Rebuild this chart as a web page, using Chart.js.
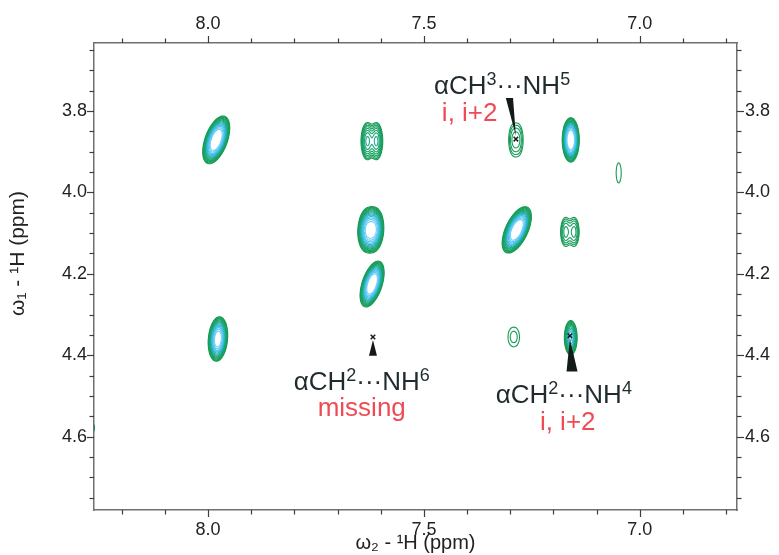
<!DOCTYPE html>
<html>
<head>
<meta charset="utf-8">
<script src="https://cdn.jsdelivr.net/npm/chart.js@4.4.1/dist/chart.umd.min.js"></script>
<style>
  html, body { margin: 0; padding: 0; background: #fff; }
  #wrap { width: 779px; height: 555px; }
</style>
</head>
<body>
<div id="wrap"><canvas id="noesy"></canvas></div>
<script>
// axis windows (ppm)
const xMin = 6.775, xMax = 8.264;
const yMin = 3.633, yMax = 4.78;

const xTicks = [8.2, 8.1, 8.0, 7.9, 7.8, 7.7, 7.6, 7.5, 7.4, 7.3, 7.2, 7.1, 7.0, 6.9, 6.8];
const xLabels = ['8.0', '7.5', '7.0'];
const yTicks = [3.65, 3.7, 3.75, 3.8, 3.85, 3.9, 3.95, 4.0, 4.05, 4.1, 4.15, 4.2, 4.25, 4.3,
                4.35, 4.4, 4.45, 4.5, 4.55, 4.6, 4.65, 4.7, 4.75];
const yLabels = ['3.8', '4.0', '4.2', '4.4', '4.6'];

// cross peaks: w2, w1, linewidths (ppm), tilt (deg), intensity (x lowest contour)
const peakX    = [7.981, 7.977, 7.631, 7.610, 7.630, 7.616, 7.620, 7.294, 7.280, 7.285,
                  7.300, 7.284, 7.160, 7.172, 7.152, 7.160, 7.049, 8.271];
const peakY    = [3.871, 4.360, 3.874, 3.874, 4.092, 4.092, 4.225, 3.871, 3.871, 4.092,
                  4.355, 4.355, 3.871, 4.097, 4.097, 4.357, 3.952, 4.578];
const peakWX   = [0.0088, 0.0079, 0.0074, 0.0074, 0.0086, 0.0086, 0.0079, 0.0081, 0.0081, 0.0088,
                  0.0104, 0.0104, 0.0067, 0.0074, 0.0074, 0.0063, 0.0097, 0.0116];
const peakWY   = [0.0211, 0.0196, 0.0231, 0.0231, 0.0204, 0.0204, 0.0201, 0.0294, 0.0294, 0.0211,
                  0.0270, 0.0270, 0.0187, 0.0228, 0.0228, 0.0182, 0.0410, 0.0196];
const peakTilt = [20, 5, 0, 0, 3, 3, 18, 0, 0, 25, 0, 0, 0, 0, 0, 0, 0, 0];
const peakAmp  = [70, 50, 7, 7, 35, 35, 70, 2, 2, 70, 1.0, 1.0, 70, 3.3, 3.3, 15, 1.2, 1.3];

const levels = [1, 1.3, 1.69, 2.2, 2.86, 3.71, 4.83, 6.27, 8.16, 10.6, 13.8, 17.9, 23.3, 30.3];
const levelColors = ['#169953', '#179b57', '#189d5b', '#199f60', '#1aa165', '#1ba36a', '#1da670', '#20aa96',
                     '#25afc0', '#2db5d6', '#39bce3', '#48c2ea', '#5bc9ef', '#72d1f3'];

// assignment markers and labels
const markX = [7.287, 7.618, 7.162];
const markY = [3.869, 4.355, 4.352];
const wedgeX = [7.302, 7.618, 7.157];
const wedgeY = [3.768, 4.401, 4.440];
const noteX = [7.319, 7.644, 7.176];
const noteY = [3.736, 4.463, 4.494];
const noteCH = ['3', '2', '2'];
const noteNH = ['5', '6', '4'];
const subX = [7.394, 7.644, 7.167];
const subY = [3.807, 4.531, 4.566];
const subText = ['i, i+2', 'missing', 'i, i+2'];

const axisFont = "'Liberation Sans Narrow', 'Liberation Sans', Arial, sans-serif";
const noteFont = "'Liberation Sans', Arial, sans-serif";

const contourPlugin = {
    id: 'contours',
    beforeDatasetsDraw(chart) {
        const {ctx, chartArea: a} = chart;
        const xs = chart.scales.x, ys = chart.scales.y;
        const ox = Math.floor(a.left), oy = Math.floor(a.top);
        const W = Math.ceil(a.right) - ox + 1, H = Math.ceil(a.bottom) - oy + 1;
        const field = new Float32Array(W * H);

        peakX.forEach((px, p) => {
            const cx = xs.getPixelForValue(px), cy = ys.getPixelForValue(peakY[p]);
            const sMin = Math.abs(xs.getPixelForValue(px + peakWX[p]) - cx);
            const sMaj = Math.abs(ys.getPixelForValue(peakY[p] + peakWY[p]) - cy);
            const t = peakTilt[p] * Math.PI / 180, ct = Math.cos(t), st = Math.sin(t);
            const R = 6 * Math.max(sMin, sMaj);
            const i0 = Math.max(0, Math.floor(cx - R - ox)), i1 = Math.min(W - 1, Math.ceil(cx + R - ox));
            const j0 = Math.max(0, Math.floor(cy - R - oy)), j1 = Math.min(H - 1, Math.ceil(cy + R - oy));
            for (let j = j0; j <= j1; j++) {
                for (let i = i0; i <= i1; i++) {
                    const dx = ox + i - cx, dy = oy + j - cy;
                    const along = dx * st - dy * ct, across = dx * ct + dy * st;
                    field[j * W + i] += peakAmp[p] *
                        Math.exp(-0.5 * (along * along / (sMaj * sMaj) + across * across / (sMin * sMin)));
                }
            }
        });

        ctx.save();
        ctx.beginPath();
        ctx.rect(a.left, a.top, a.right - a.left, a.bottom - a.top);
        ctx.clip();
        ctx.lineWidth = 1.1;
        ctx.lineCap = 'round';
        levels.forEach((lev, k) => {
            ctx.strokeStyle = levelColors[k];
            ctx.beginPath();
            const seg = (x1, y1, x2, y2) => { ctx.moveTo(x1, y1); ctx.lineTo(x2, y2); };
            for (let j = 0; j < H - 1; j++) {
                for (let i = 0; i < W - 1; i++) {
                    const va = field[j * W + i], vb = field[j * W + i + 1];
                    const vc = field[(j + 1) * W + i + 1], vd = field[(j + 1) * W + i];
                    let idx = 0;
                    if (va >= lev) idx |= 8;
                    if (vb >= lev) idx |= 4;
                    if (vc >= lev) idx |= 2;
                    if (vd >= lev) idx |= 1;
                    if (idx === 0 || idx === 15) continue;
                    const x = ox + i, y = oy + j;
                    const tX = x + (lev - va) / (vb - va), tY = y;
                    const rX = x + 1, rY = y + (lev - vb) / (vc - vb);
                    const bX = x + (lev - vd) / (vc - vd), bY = y + 1;
                    const lX = x, lY = y + (lev - va) / (vd - va);
                    const centre = (va + vb + vc + vd) / 4 >= lev;
                    switch (idx) {
                        case 1: case 14: seg(lX, lY, bX, bY); break;
                        case 2: case 13: seg(bX, bY, rX, rY); break;
                        case 3: case 12: seg(lX, lY, rX, rY); break;
                        case 4: case 11: seg(tX, tY, rX, rY); break;
                        case 6: case 9: seg(tX, tY, bX, bY); break;
                        case 7: case 8: seg(lX, lY, tX, tY); break;
                        case 5:
                            if (centre) { seg(lX, lY, tX, tY); seg(bX, bY, rX, rY); }
                            else { seg(tX, tY, rX, rY); seg(lX, lY, bX, bY); }
                            break;
                        case 10:
                            if (centre) { seg(tX, tY, rX, rY); seg(lX, lY, bX, bY); }
                            else { seg(lX, lY, tX, tY); seg(bX, bY, rX, rY); }
                            break;
                    }
                }
            }
            ctx.stroke();
        });
        ctx.restore();
    }
};

const tickPlugin = {
    id: 'outerTicks',
    afterDraw(chart) {
        const ctx = chart.ctx;
        ctx.save();
        ctx.strokeStyle = '#3c3c3c';
        ctx.lineWidth = 1.2;
        ['x', 'x2', 'y', 'y2'].forEach(id => {
            const s = chart.scales[id];
            s.ticks.forEach(t => {
                const len = t.label ? 7 : 4.5;
                const p = Math.round(s.getPixelForValue(t.value)) + 0.5;
                ctx.beginPath();
                if (s.position === 'bottom') { ctx.moveTo(p, s.top); ctx.lineTo(p, s.top + len); }
                if (s.position === 'top') { ctx.moveTo(p, s.bottom); ctx.lineTo(p, s.bottom - len); }
                if (s.position === 'left') { ctx.moveTo(s.right, p); ctx.lineTo(s.right - len, p); }
                if (s.position === 'right') { ctx.moveTo(s.left, p); ctx.lineTo(s.left + len, p); }
                ctx.stroke();
            });
        });
        // left axis title, set a little above the middle as in the original
        const ys = chart.scales.y;
        ctx.translate(18, ys.getPixelForValue(4.15));
        ctx.rotate(-Math.PI / 2);
        ctx.fillStyle = '#222';
        ctx.font = '21px ' + axisFont;
        ctx.textAlign = 'center';
        ctx.textBaseline = 'middle';
        ctx.fillText('\u03C9\u2081 - \u00B9H (ppm)', 0, 0);
        ctx.restore();
    }
};

function drawNote(ctx, cx, cy, ch, nh) {
    const big = 26, small = 18;
    const parts = [['\u03B1CH', big], [ch, small], ['\u00B7\u00B7\u00B7NH', big], [nh, small]];
    let total = 0;
    parts.forEach(([t, sz]) => { ctx.font = sz + 'px ' + noteFont; total += ctx.measureText(t).width; });
    let x = cx - total / 2;
    const base = cy + big * 0.36;
    ctx.textAlign = 'left';
    ctx.textBaseline = 'alphabetic';
    parts.forEach(([t, sz]) => {
        ctx.font = sz + 'px ' + noteFont;
        ctx.fillText(t, x, sz === big ? base : base - big * 0.36);
        x += ctx.measureText(t).width;
    });
}

const notePlugin = {
    id: 'notes',
    afterDatasetsDraw(chart) {
        const ctx = chart.ctx, xs = chart.scales.x, ys = chart.scales.y;
        const halfW = [3.6, 4, 5.5];
        ctx.save();
        ctx.fillStyle = '#141a1a';
        markX.forEach((mx, i) => {
            const tx = xs.getPixelForValue(mx), ty = ys.getPixelForValue(markY[i]);
            const bx = xs.getPixelForValue(wedgeX[i]), by = ys.getPixelForValue(wedgeY[i]);
            ctx.beginPath();
            ctx.moveTo(bx - halfW[i], by);
            ctx.lineTo(bx + halfW[i], by);
            ctx.lineTo(tx, ty + (by > ty ? 3 : -3));
            ctx.closePath();
            ctx.fill();
        });
        ctx.fillStyle = '#1f2b2e';
        noteX.forEach((nx, i) => {
            drawNote(ctx, xs.getPixelForValue(nx), ys.getPixelForValue(noteY[i]), noteCH[i], noteNH[i]);
        });
        ctx.fillStyle = '#ef4b55';
        ctx.font = '26px ' + noteFont;
        ctx.textAlign = 'center';
        ctx.textBaseline = 'middle';
        subX.forEach((sx, i) => {
            ctx.fillText(subText[i], xs.getPixelForValue(sx), ys.getPixelForValue(subY[i]));
        });
        ctx.restore();
    }
};

const tickLabel = list => value => {
    const s = value.toFixed(1);
    return list.includes(s) && Math.abs(value - parseFloat(s)) < 1e-6 ? s : '';
};

function axis(pos, isX, size, pad, title) {
    return {
        type: 'linear',
        axis: isX ? 'x' : 'y',
        position: pos,
        reverse: true,
        min: isX ? xMin : yMin,
        max: isX ? xMax : yMax,
        afterBuildTicks: s => { s.ticks = (isX ? xTicks : yTicks).map(v => ({value: v})); },
        afterFit: s => { if (isX) s.height = size; else s.width = size; },
        grid: {display: false, drawTicks: false, tickLength: 0},
        border: {display: true, color: '#707070', width: 1.5},
        ticks: {
            autoSkip: false,
            maxRotation: 0,
            padding: pad,
            color: '#222',
            font: {family: axisFont, size: 18},
            callback: tickLabel(isX ? xLabels : yLabels)
        },
        title: title ? {display: true, text: title, color: '#222',
                        font: {family: axisFont, size: 20}, padding: {top: 0, bottom: 0}} : {display: false}
    };
}

new Chart(document.getElementById('noesy'), {
    type: 'scatter',
    data: {
        datasets: [{
            label: 'assignments',
            data: markX.map((x, i) => ({x: x, y: markY[i]})),
            pointStyle: 'crossRot',
            pointRadius: 3.2,
            borderColor: '#1a1a1a',
            borderWidth: 1.5,
            backgroundColor: '#1a1a1a'
        }]
    },
    options: {
        responsive: true,
        maintainAspectRatio: false,
        animation: false,
        layout: {padding: 0},
        plugins: {legend: {display: false}, tooltip: {enabled: false}},
        scales: {
            x: axis('bottom', true, 45, 9, '\u03C9\u2082 - \u00B9H (ppm)'),
            x2: axis('top', true, 43, 8, null),
            y: axis('left', false, 94, 7, null),
            y2: axis('right', false, 42, 8, null)
        }
    },
    plugins: [contourPlugin, tickPlugin, notePlugin]
});
</script>
</body>
</html>
